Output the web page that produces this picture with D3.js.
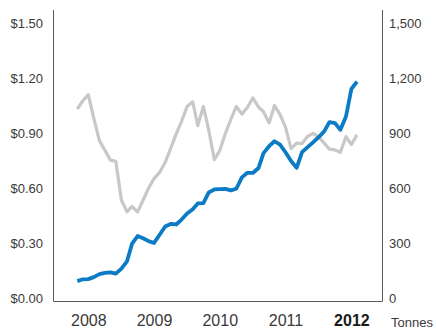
<!DOCTYPE html>
<html>
<head>
<meta charset="utf-8">
<script src="https://cdn.jsdelivr.net/npm/d3@7/dist/d3.min.js"></script>
<style>
  html, body { margin: 0; padding: 0; background: #fff; }
  svg { display: block; }
  .tick text { font-family: "Liberation Sans", Arial, sans-serif; fill: #3a3a3a; }
</style>
</head>
<body>
<svg id="chart" width="436" height="335"></svg>
<script>
// Monthly observations, May 2008 – Aug 2012
const months = d3.timeMonth.range(new Date(2008, 4, 1), new Date(2012, 8, 1));

// Price per unit, US$ (left axis)
const priceValues = [
  0.092, 0.102, 0.103, 0.114, 0.130, 0.137, 0.140, 0.133,
  0.160, 0.200, 0.296, 0.338, 0.326, 0.310, 0.300, 0.345, 0.390, 0.404, 0.401, 0.428,
  0.461, 0.484, 0.516, 0.518, 0.576, 0.592, 0.594, 0.595, 0.587, 0.596, 0.658, 0.683,
  0.682, 0.709, 0.790, 0.828, 0.855, 0.836, 0.795, 0.747, 0.710, 0.796, 0.823, 0.849,
  0.877, 0.909, 0.959, 0.954, 0.918, 0.990, 1.140, 1.180
];

// Volume, tonnes (right axis)
const tonnesValues = [
  1031, 1076, 1109, 978, 857, 806, 752, 745,
  533, 470, 500, 470, 533, 600, 651, 685, 740, 815, 895, 964,
  1045, 1070, 940, 1045, 915, 755, 804, 897, 975, 1045, 1003, 1039,
  1091, 1042, 1016, 955, 1050, 1000, 932, 815, 845, 842, 882, 898,
  879, 845, 812, 808, 795, 880, 837, 890
];

const years = [2008, 2009, 2010, 2011, 2012];
const priceTicks = [0, 0.3, 0.6, 0.9, 1.2, 1.5];
const tonnesTicks = [0, 300, 600, 900, 1200, 1500];

const svg = d3.select("#chart");
const plotLeft = 53, plotRight = 382, plotTop = 10, plotBottom = 301;

const x = d3.scaleTime()
  .domain([new Date(2008, 0, 1), new Date(2013, 0, 1)])
  .range([plotLeft, plotRight]);
const yPrice = d3.scaleLinear().domain([0, 1.5]).range([298, 23]);
const yTonnes = d3.scaleLinear().domain([0, 1500]).range([298, 23]);

const mid = d => d3.timeDay.offset(d, 14);

// Frame: left, bottom and right rules
svg.append("path")
  .attr("stroke", "#5a5a5a").attr("stroke-width", 1).attr("fill", "none")
  .attr("d", `M${plotLeft + 0.5},${plotTop}V${plotBottom + 0.5}H${plotRight + 0.5}V${plotTop}`);

// Left axis ($)
svg.append("g")
  .attr("transform", `translate(${plotLeft},0)`)
  .call(d3.axisLeft(yPrice).tickValues(priceTicks).tickSize(0).tickPadding(10)
    .tickFormat(d => "$" + d3.format(".2f")(d)))
  .call(g => g.select(".domain").remove())
  .selectAll("text").style("font-size", "13px");

// Right axis (tonnes)
svg.append("g")
  .attr("transform", `translate(${plotRight},0)`)
  .call(d3.axisRight(yTonnes).tickValues(tonnesTicks).tickSize(0).tickPadding(7)
    .tickFormat(d3.format(",")))
  .call(g => g.select(".domain").remove())
  .selectAll("text").style("font-size", "13px");

// Year labels
const xAxis = svg.append("g")
  .attr("transform", `translate(0,${plotBottom})`)
  .call(d3.axisBottom(x)
    .tickValues(years.map(yr => new Date(yr, 6, 15)))
    .tickSize(0).tickPadding(14)
    .tickFormat(d3.timeFormat("%Y")))
  .call(g => g.select(".domain").remove());
xAxis.selectAll("text")
  .style("font-size", "16px")
  .style("font-weight", d => d.getFullYear() === 2012 ? "bold" : "normal")
  .style("fill", d => d.getFullYear() === 2012 ? "#1a1a1a" : "#3a3a3a");

// Unit label for the right axis
svg.append("text")
  .attr("x", 391).attr("y", 327)
  .style("font-family", '"Liberation Sans", Arial, sans-serif')
  .style("font-size", "13px")
  .style("fill", "#3a3a3a")
  .text("Tonnes");

// Series lines
const tonnesLine = d3.line().x((d, i) => x(mid(months[i]))).y(d => yTonnes(d));
const priceLine = d3.line().x((d, i) => x(mid(months[i]))).y(d => yPrice(d));

svg.append("path")
  .datum(tonnesValues)
  .attr("fill", "none")
  .attr("stroke", "#c8c8c8")
  .attr("stroke-width", 3.2)
  .attr("stroke-linejoin", "round")
  .attr("d", tonnesLine);

svg.append("path")
  .datum(priceValues)
  .attr("fill", "none")
  .attr("stroke", "#0a7bc4")
  .attr("stroke-width", 3.8)
  .attr("stroke-linejoin", "round")
  .attr("d", priceLine);
</script>
</body>
</html>
